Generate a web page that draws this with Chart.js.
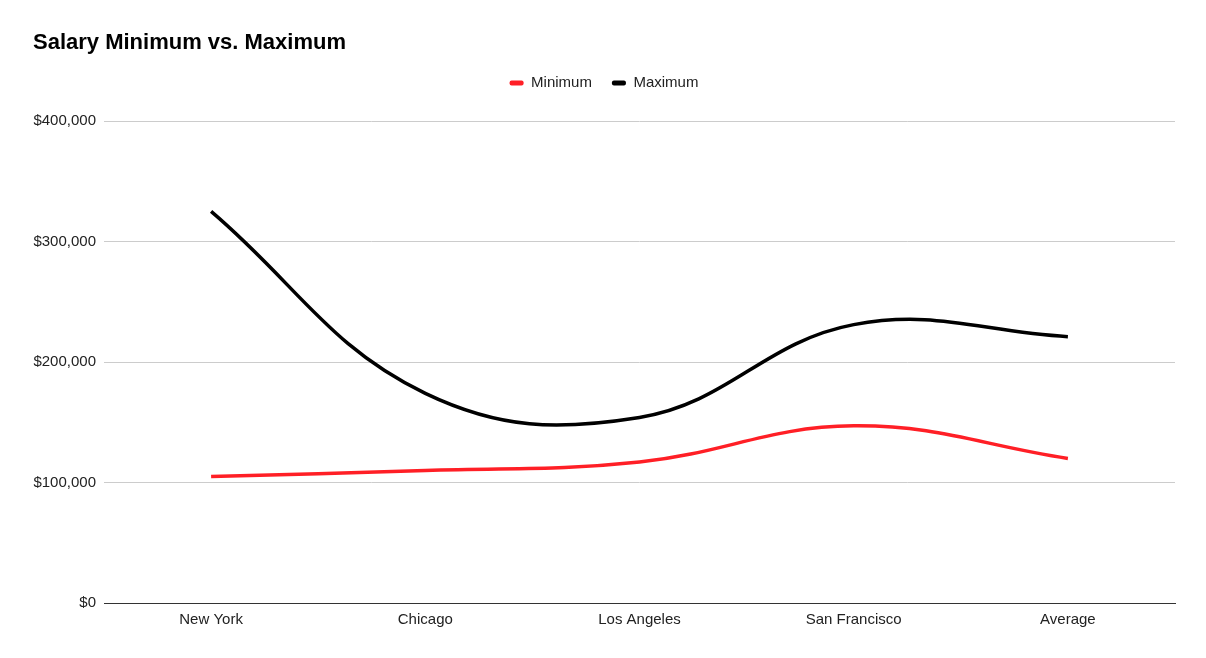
<!DOCTYPE html>
<html>
<head>
<meta charset="utf-8">
<script src="https://cdn.jsdelivr.net/npm/chart.js@4.4.1/dist/chart.umd.min.js"></script>
<style>
  html, body { margin: 0; padding: 0; background: #ffffff; }
  #wrap { width: 1206px; height: 658px; }
</style>
</head>
<body>
<div id="wrap"><canvas id="c" width="1206" height="658"></canvas></div>
<script>
const categories = ['New York', 'Chicago', 'Los Angeles', 'San Francisco', 'Average'];
const minimumValues = [105000, 110000, 117000, 147000, 120000];
const maximumValues = [325000, 174000, 154000, 231000, 221000];
const yTickValues = [0, 100000, 200000, 300000, 400000];

const legendFitPlugin = {
  id: 'legendFit',
  beforeInit(chart) {
    const origFit = chart.legend.fit;
    chart.legend.fit = function () {
      origFit.bind(chart.legend)();
      this.height = 65.6;
    };
  }
};

const fmt = v => '$' + Number(v).toLocaleString('en-US');
const FONT = "'Liberation Sans', Arial, sans-serif";

new Chart(document.getElementById('c'), {
  type: 'line',
  data: {
    labels: categories,
    datasets: [
      {
        label: 'Minimum',
        data: minimumValues,
        borderColor: '#ff1f26',
        backgroundColor: '#ff1f26',
        borderWidth: 3.5,
        pointRadius: 0,
        pointHoverRadius: 0,
        tension: 0.4,
        fill: false
      },
      {
        label: 'Maximum',
        data: maximumValues,
        borderColor: '#000000',
        backgroundColor: '#000000',
        borderWidth: 3.5,
        pointRadius: 0,
        pointHoverRadius: 0,
        tension: 0.4,
        fill: false
      }
    ]
  },
  options: {
    responsive: false,
    animation: false,
    layout: { padding: { left: 33, right: 31, top: 0, bottom: 15 } },
    plugins: {
      title: {
        display: true,
        text: 'Salary Minimum vs. Maximum',
        align: 'start',
        color: '#000000',
        font: { family: FONT, size: 22, weight: 'bold', lineHeight: 1.2 },
        padding: { top: 30, bottom: -1 }
      },
      legend: {
        display: true,
        position: 'top',
        align: 'center',
        labels: {
          color: '#222222',
          font: { family: FONT, size: 15 },
          boxWidth: 14,
          boxHeight: 5,
          useBorderRadius: true,
          borderRadius: 2,
          padding: 20,
          generateLabels(chart) {
            return Chart.defaults.plugins.legend.labels.generateLabels(chart)
              .map(l => Object.assign(l, { lineWidth: 0 }));
          }
        }
      },
      tooltip: { enabled: false }
    },
    scales: {
      x: {
        offset: true,
        grid: { display: false, drawTicks: false },
        border: { display: true, color: '#333333', width: 1 },
        ticks: {
          color: '#222222',
          padding: 8,
          maxRotation: 0,
          autoSkip: false,
          font: { family: FONT, size: 15 }
        },
        afterFit(scale) { scale.height = 40; }
      },
      y: {
        min: 0,
        max: 400000,
        afterBuildTicks(scale) { scale.ticks = yTickValues.map(v => ({ value: v })); },
        grid: { color: '#cccccc', lineWidth: 1, drawTicks: false },
        border: { display: false },
        ticks: {
          color: '#222222',
          padding: 8,
          callback: v => fmt(v),
          font: { family: FONT, size: 15 }
        },
        afterFit(scale) { scale.width = 71; }
      }
    }
  },
  plugins: [legendFitPlugin]
});
</script>
</body>
</html>
